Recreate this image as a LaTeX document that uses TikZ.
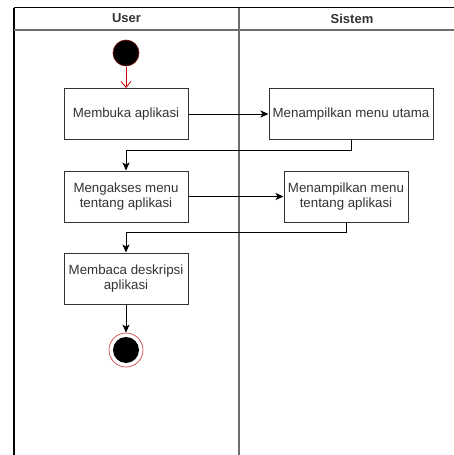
\documentclass[tikz,border=0pt]{standalone}
\usepackage{fontspec}
\setmainfont{Liberation Sans}
\usetikzlibrary{arrows.meta}
\definecolor{txt}{HTML}{333333}
\definecolor{lane}{HTML}{6E6E6E}
\definecolor{darkred}{HTML}{7A0000}
\begin{document}
\begin{tikzpicture}[x=1pt,y=-1pt,
  act/.style={draw=txt,line width=1pt,minimum width=124pt,minimum height=51pt,
    align=center,font=\fontsize{13.3}{15.5}\selectfont,text=txt,inner sep=1pt},
  flow/.style={draw=black,line width=1pt,-{Stealth[length=8pt,width=7pt,inset=2pt]}},
  hdr/.style={font=\bfseries\fontsize{13}{15}\selectfont,text=txt}]
\useasboundingbox (0,0) rectangle (454,455);
% swimlanes
\draw[black,line width=1.2pt] (14,7.5) -- (454,7.5);
\draw[black,line width=1.2pt] (14,7.5) -- (14,455);
\draw[lane,line width=1.6pt] (14,30) -- (454,30);
\draw[lane,line width=1.6pt] (239,7.5) -- (239,455);
\node[hdr] (huser) at (126.5,18.5) {User};
\node[hdr] (hsis) at (352,18.5) {Sistem};
% nodes
\node[circle,fill=black,draw=darkred,line width=0.6pt,minimum size=26pt,inner sep=0pt] (start) at (126,53) {};
\node[act] (b1) at (126,114) {Membuka aplikasi};
\node[act,minimum width=164pt] (b2) at (351,114) {Menampilkan menu utama};
\node[act] (b3) at (126,196.5) {Mengakses menu\\tentang aplikasi};
\node[act] (b4) at (346,196.5) {Menampilkan menu\\tentang aplikasi};
\node[act] (b5) at (126,278.5) {Membaca deskripsi\\aplikasi};
\node[circle,draw={rgb,255:red,210;green,70;blue,70},line width=0.7pt,fill=white,minimum size=34pt,inner sep=0pt] (endo) at (126,350) {};
\node[circle,fill=black,minimum size=26pt,inner sep=0pt] (endi) at (endo.center) {};
% connectors
\draw[red!80!black,line width=0.8pt,-{Straight Barb[length=6pt,width=10pt]}] (start.south) ++(0,1) coordinate (s0) (s0) -- (b1.north);
\draw[flow] (b1.east) -- (b2.west);
\draw[flow] (b2.south) |- (126,150.5) coordinate (c1) -- (b3.north);
\draw[flow] (b3.east) -- (b4.west);
\draw[flow] (b4.south) |- (126,232) coordinate (c2) -- (b5.north);
\draw[flow] (b5.south) -- (endo.north);
\end{tikzpicture}
\end{document}
